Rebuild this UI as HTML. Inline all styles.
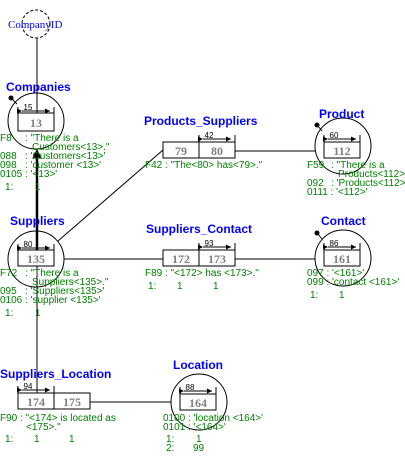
<!DOCTYPE html>
<html><head><meta charset="utf-8"><style>
html,body{margin:0;padding:0;background:#fff;width:405px;height:460px;overflow:hidden}
svg text{font-family:"Liberation Sans",sans-serif}
.lb{fill:#0000ff;font-weight:bold;font-size:12px}
.g{fill:#008000;font-size:10px}
.n{fill:#808080;font-family:"Liberation Serif",serif !important;font-weight:bold;font-size:12px}
.s{fill:#000;font-size:8px}
</style></head><body>
<svg width="405" height="460" viewBox="0 0 405 460" xmlns="http://www.w3.org/2000/svg">
<defs><marker id="a" markerWidth="5" markerHeight="5" refX="5" refY="2.5" orient="auto"><path d="M0,0L5,2.5L0,5z" fill="#000"/></marker></defs>
<g stroke="#000" fill="none" stroke-width="1">
<circle cx="36" cy="24" r="14" stroke-dasharray="3,2"/>
<line x1="37" y1="38" x2="37" y2="113"/>
<circle cx="36" cy="121" r="28"/>
<line x1="37" y1="152" x2="37" y2="250" stroke-width="2.5"/>
<path d="M37,150 L33,158 L41,158 z" fill="#000"/>
<line x1="37" y1="266" x2="37" y2="393"/>
<circle cx="36" cy="259" r="28"/>
<line x1="58" y1="241" x2="163" y2="150"/>
<line x1="64" y1="259" x2="163" y2="259"/>
<line x1="235" y1="151" x2="315" y2="151"/>
<line x1="235" y1="259" x2="315" y2="259"/>
<circle cx="343" cy="146" r="28"/>
<circle cx="343" cy="258" r="28"/>
<line x1="90" y1="402" x2="171" y2="402"/>
<circle cx="199" cy="402" r="28"/>
<line x1="12" y1="99" x2="17" y2="104"/>
<line x1="318" y1="126" x2="322" y2="131"/>
<line x1="318" y1="234" x2="322" y2="239"/>
<rect x="18" y="113" width="36" height="18" fill="#fff"/>
<rect x="18" y="250" width="36" height="16" fill="#fff"/>
<rect x="163" y="142" width="36" height="16" fill="#fff"/>
<rect x="199" y="142" width="36" height="16" fill="#fff"/>
<rect x="324" y="142" width="36" height="16" fill="#fff"/>
<rect x="163" y="250" width="36" height="16" fill="#fff"/>
<rect x="199" y="250" width="36" height="16" fill="#fff"/>
<rect x="324" y="250" width="36" height="16" fill="#fff"/>
<rect x="18" y="393" width="36" height="16" fill="#fff"/>
<rect x="54" y="393" width="36" height="16" fill="#fff"/>
<rect x="180" y="394" width="36" height="16" fill="#fff"/>
<g marker-start="url(#a)" marker-end="url(#a)">
<line x1="22" y1="111" x2="50" y2="111"/>
<line x1="22" y1="248" x2="50" y2="248"/>
<line x1="203" y1="139" x2="231" y2="139"/>
<line x1="328" y1="139" x2="356" y2="139"/>
<line x1="203" y1="247" x2="231" y2="247"/>
<line x1="328" y1="247" x2="356" y2="247"/>
<line x1="22" y1="390" x2="50" y2="390"/>
<line x1="184" y1="391" x2="212" y2="391"/>
</g>
<line x1="18" y1="107" x2="18" y2="114"/><line x1="54" y1="107" x2="54" y2="114"/>
<line x1="18" y1="244" x2="18" y2="251"/><line x1="54" y1="244" x2="54" y2="251"/>
<line x1="199" y1="135" x2="199" y2="142"/><line x1="235" y1="135" x2="235" y2="142"/>
<line x1="324" y1="135" x2="324" y2="142"/><line x1="360" y1="135" x2="360" y2="142"/>
<line x1="199" y1="243" x2="199" y2="250"/><line x1="235" y1="243" x2="235" y2="250"/>
<line x1="324" y1="243" x2="324" y2="250"/><line x1="360" y1="243" x2="360" y2="250"/>
<line x1="18" y1="386" x2="18" y2="393"/><line x1="54" y1="386" x2="54" y2="393"/>
<line x1="180" y1="387" x2="180" y2="394"/><line x1="216" y1="387" x2="216" y2="394"/>
</g>
<circle cx="11" cy="98" r="2.5"/><circle cx="317" cy="125" r="2.5"/><circle cx="317" cy="233" r="2.5"/>
<text x="8" y="28" fill="#0000ff" font-size="11" style="font-family:'Liberation Serif',serif">CompanyID</text>
<text class="lb" x="6" y="91">Companies</text>
<text class="lb" x="144" y="125">Products_Suppliers</text>
<text class="lb" x="319" y="118">Product</text>
<text class="lb" x="10" y="225">Suppliers</text>
<text class="lb" x="146" y="233">Suppliers_Contact</text>
<text class="lb" x="321" y="225">Contact</text>
<text class="lb" x="0" y="378">Suppliers_Location</text>
<text class="lb" x="173" y="369">Location</text>
<g text-anchor="middle">
<text class="n" x="36" y="127">13</text>
<text class="n" x="36" y="263">135</text>
<text class="n" x="181" y="155">79</text>
<text class="n" x="217" y="155">80</text>
<text class="n" x="342" y="155">112</text>
<text class="n" x="181" y="263">172</text>
<text class="n" x="217" y="263">173</text>
<text class="n" x="342" y="263">161</text>
<text class="n" x="36" y="406">174</text>
<text class="n" x="72" y="406">175</text>
<text class="n" x="198" y="407">164</text>
<text class="s" x="28" y="110">15</text>
<text class="s" x="28" y="247">80</text>
<text class="s" x="209" y="138">42</text>
<text class="s" x="334" y="138">60</text>
<text class="s" x="209" y="246">93</text>
<text class="s" x="334" y="246">86</text>
<text class="s" x="28" y="389">94</text>
<text class="s" x="190" y="390">88</text>
</g>
<g class="g">
<text class="g" x="0" y="141">F8</text><text class="g" x="25" y="141">: "There is a</text>
<text class="g" x="32" y="150">Customers&lt;13&gt;."</text>
<text class="g" x="0" y="159">088</text><text class="g" x="25" y="159">: 'Customers&lt;13&gt;'</text>
<text class="g" x="0" y="168">098</text><text class="g" x="25" y="168">: 'customer &lt;13&gt;'</text>
<text class="g" x="0" y="177">0105 : '&lt;13&gt;'</text>
<text class="g" x="5" y="190">1:</text><text class="g" x="35" y="190">1</text>
<text class="g" x="145" y="168">F42 : "The&lt;80&gt; has&lt;79&gt;."</text>
<text class="g" x="307" y="168">F59</text><text class="g" x="331" y="168">: "There is a</text>
<text class="g" x="338" y="177">Products&lt;112&gt;."</text>
<text class="g" x="307" y="186">092</text><text class="g" x="331" y="186">: 'Products&lt;112&gt;'</text>
<text class="g" x="307" y="195">0111 : '&lt;112&gt;'</text>
<text class="g" x="0" y="276">F72</text><text class="g" x="25" y="276">: "There is a</text>
<text class="g" x="32" y="285">Suppliers&lt;135&gt;."</text>
<text class="g" x="0" y="294">095</text><text class="g" x="25" y="294">: 'Suppliers&lt;135&gt;'</text>
<text class="g" x="0" y="303">0106 : 'supplier &lt;135&gt;'</text>
<text class="g" x="5" y="316">1:</text><text class="g" x="35" y="316">1</text>
<text class="g" x="145" y="276">F89 : "&lt;172&gt; has &lt;173&gt;."</text>
<text class="g" x="148" y="289">1:</text><text class="g" x="177" y="289">1</text><text class="g" x="213" y="289">1</text>
<text class="g" x="307" y="276">097 : '&lt;161&gt;'</text>
<text class="g" x="307" y="285">099 : 'contact &lt;161&gt;'</text>
<text class="g" x="310" y="298">1:</text><text class="g" x="339" y="298">1</text>
<text class="g" x="0" y="421">F90 : "&lt;174&gt; is located as</text>
<text class="g" x="26" y="430">&lt;175&gt;."</text>
<text class="g" x="5" y="442">1:</text><text class="g" x="34" y="442">1</text><text class="g" x="69" y="442">1</text>
<text class="g" x="163" y="421">0100 : 'location &lt;164&gt;'</text>
<text class="g" x="163" y="430">0101 : '&lt;164&gt;'</text>
<text class="g" x="166" y="442">1:</text><text class="g" x="196" y="442">1</text>
<text class="g" x="166" y="451">2:</text><text class="g" x="193" y="451">99</text>
</g>
</svg>
</body></html>
